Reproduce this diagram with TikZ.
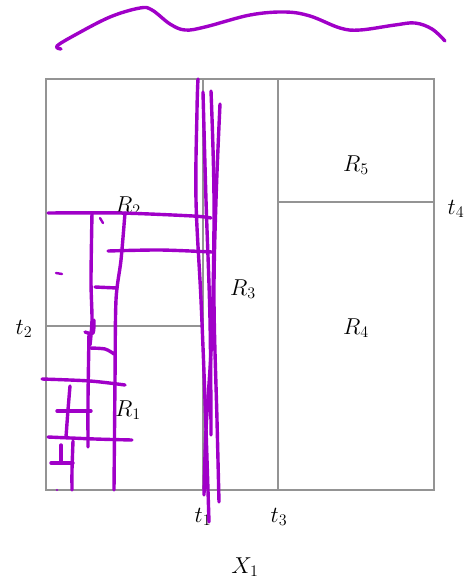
\RequirePackage{fix-cm}
\documentclass[tikz,border=0pt]{standalone}
\usepackage{fontspec}
\begin{document}
\begin{tikzpicture}[x=1pt,y=-1pt,
  grid/.style={draw=black!42,line width=1.3pt},
  ink/.style={draw=pen,line width=3.4pt,line cap=round,line join=round},
  lbl/.style={font=\fontsize{23}{26}\selectfont,inner sep=0pt}]
\definecolor{pen}{RGB}{160,0,200}
\useasboundingbox (0,0) rectangle (470,584);
% partition
\coordinate (bl) at (46,490);
\coordinate (tr) at (434,79);
\draw[grid] (bl) rectangle (tr);
\coordinate (t1b) at (203,490); \coordinate (t1t) at (203,79);
\coordinate (t3b) at (278,490); \coordinate (t3t) at (278,79);
\coordinate (t2l) at (46,326); \coordinate (t2r) at (203,326);
\coordinate (t4l) at (278,202); \coordinate (t4r) at (434,202);
\draw[grid] (t1b) -- (t1t);
\draw[grid] (t3b) -- (t3t);
\draw[grid] (t2l) -- (t2r);
\draw[grid] (t4l) -- (t4r);
% labels
\node[lbl] (R1) at (128,410) {$R_1$};
\node[lbl] (R2) at (128,206) {$R_2$};
\node[lbl] (R3) at (243,289) {$R_3$};
\node[lbl] (R4) at (356,328) {$R_4$};
\node[lbl] (R5) at (356,165) {$R_5$};
\node[lbl] (t2) at (24,329) {$t_2$};
\node[lbl] (t4) at (456,209) {$t_4$};
\node[lbl] (t1) at (203,517) {$t_1$};
\node[lbl] (t3) at (279,517) {$t_3$};
\node[lbl] (X1) at (245,567) {$X_1$};
% purple ink: top wave
\draw[ink] plot[smooth,tension=0.6] coordinates {(61,49) (57,46) (75,35) (110,17) (140,8) (152,10) (170,24) (185,30) (205,27) (250,15) (285,12) (310,16) (340,28) (360,30) (395,25) (415,23) (432,29) (445,41)};
% purple ink: strokes over t1
\draw[ink] plot[smooth,tension=0.6] coordinates {(198,79) (197,110) (196,200) (201,300) (205,400) (209,522)};
\draw[ink] plot[smooth,tension=0.6] coordinates {(203,92) (206,200) (210,320) (211,435)};
\draw[ink] plot[smooth,tension=0.6] coordinates {(211,91) (214,200) (212,330) (206,430) (204,495)};
\draw[ink] plot[smooth,tension=0.6] coordinates {(220,104) (216,200) (214,300) (217,420) (219,502)};
% purple ink: left grid sketch
\draw[ink] plot[smooth,tension=0.5] coordinates {(48,213) (120,213) (193,216) (211,218)};
\draw[ink] plot[smooth,tension=0.5] coordinates {(108,251) (160,250) (212,252)};
\draw[ink] plot[smooth,tension=0.5] coordinates {(92,213) (91,280) (92,320) (90,345)};
\draw[ink] plot[smooth,tension=0.5] coordinates {(94,320) (93,333) (85,332)};
\draw[ink] plot[smooth,tension=0.5] coordinates {(89,333) (88,400) (88,447)};
\draw[ink] plot[smooth,tension=0.5] coordinates {(125,213) (121,260) (116,300) (115,380) (114,490)};
\draw[ink] (95,287) -- (117,288);
\draw[ink] plot[smooth,tension=0.5] coordinates {(89,348) (105,349) (114,354)};
\draw[ink] plot[smooth,tension=0.5] coordinates {(42,379) (90,381) (125,385)};
\draw[ink] plot[smooth,tension=0.5] coordinates {(70,386) (68,410) (66,437)};
\draw[ink] (57,411) -- (91,411);
\draw[ink] plot[smooth,tension=0.5] coordinates {(48,437) (95,439) (132,440)};
\draw[ink] plot[smooth,tension=0.5] coordinates {(73,441) (72,470) (72,490)};
\draw[ink] (61,445) -- (61,463);
\draw[ink] (51,463) -- (73,463);
\draw[ink,line width=2.4pt] (56,273) -- (62,274);
\draw[ink,line width=2.4pt] (100,218) -- (103,223);
\fill[pen] (57,490) circle (1.2);
\end{tikzpicture}
\end{document}
